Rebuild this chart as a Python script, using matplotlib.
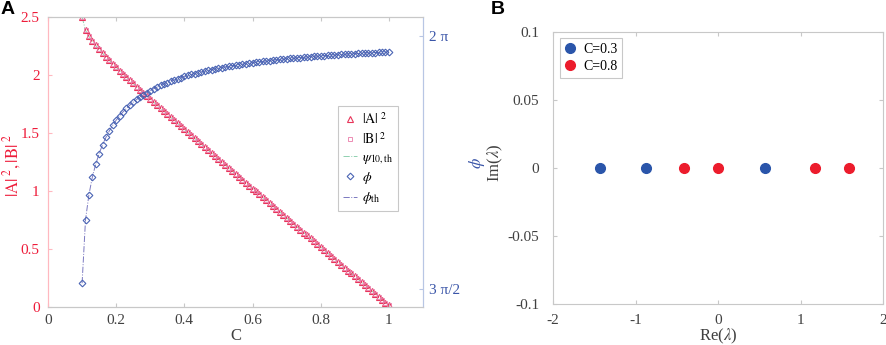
import numpy as np
import matplotlib
matplotlib.use("Agg")
import matplotlib.pyplot as plt

plt.rcParams['font.family'] = ['Liberation Serif', 'DejaVu Serif']
plt.rcParams['mathtext.fontset'] = 'stix'

# ---------------- data: panel A ----------------
C_vals = [0.10, 0.11, 0.12, 0.13, 0.14, 0.15, 0.16, 0.17, 0.18, 0.19,
          0.20, 0.21, 0.22, 0.23, 0.24, 0.25, 0.26, 0.27, 0.28, 0.29,
          0.30, 0.31, 0.32, 0.33, 0.34, 0.35, 0.36, 0.37, 0.38, 0.39,
          0.40, 0.41, 0.42, 0.43, 0.44, 0.45, 0.46, 0.47, 0.48, 0.49,
          0.50, 0.51, 0.52, 0.53, 0.54, 0.55, 0.56, 0.57, 0.58, 0.59,
          0.60, 0.61, 0.62, 0.63, 0.64, 0.65, 0.66, 0.67, 0.68, 0.69,
          0.70, 0.71, 0.72, 0.73, 0.74, 0.75, 0.76, 0.77, 0.78, 0.79,
          0.80, 0.81, 0.82, 0.83, 0.84, 0.85, 0.86, 0.87, 0.88, 0.89,
          0.90, 0.91, 0.92, 0.93, 0.94, 0.95, 0.96, 0.97, 0.98, 0.99, 1.00]

A2_vals = [2.500, 2.385, 2.334, 2.292, 2.255, 2.220, 2.188, 2.156, 2.126, 2.096,
           2.067, 2.038, 2.010, 1.982, 1.955, 1.927, 1.900, 1.873, 1.846, 1.819,
           1.793, 1.766, 1.740, 1.714, 1.688, 1.661, 1.635, 1.609, 1.583, 1.558,
           1.532, 1.506, 1.480, 1.455, 1.429, 1.403, 1.378, 1.352, 1.326, 1.301,
           1.275, 1.250, 1.224, 1.199, 1.173, 1.148, 1.123, 1.097, 1.072, 1.046,
           1.021, 0.996, 0.970, 0.945, 0.920, 0.894, 0.869, 0.844, 0.818, 0.793,
           0.768, 0.743, 0.717, 0.692, 0.667, 0.642, 0.617, 0.591, 0.566, 0.541,
           0.516, 0.490, 0.465, 0.440, 0.415, 0.390, 0.365, 0.339, 0.314, 0.289,
           0.264, 0.239, 0.214, 0.188, 0.163, 0.138, 0.113, 0.088, 0.063, 0.038, 0.013]

B2_vals = list(A2_vals)

phi_vals = [4.750, 5.142, 5.298, 5.406, 5.488, 5.553, 5.608, 5.654, 5.694, 5.729,
            5.760, 5.787, 5.811, 5.833, 5.853, 5.872, 5.888, 5.904, 5.918, 5.931,
            5.943, 5.955, 5.965, 5.975, 5.985, 5.993, 6.002, 6.009, 6.017, 6.024,
            6.031, 6.037, 6.043, 6.048, 6.054, 6.059, 6.064, 6.069, 6.073, 6.078,
            6.082, 6.086, 6.090, 6.093, 6.097, 6.100, 6.104, 6.107, 6.110, 6.113,
            6.116, 6.119, 6.121, 6.124, 6.126, 6.129, 6.131, 6.133, 6.136, 6.138,
            6.140, 6.142, 6.144, 6.146, 6.148, 6.150, 6.151, 6.153, 6.155, 6.156,
            6.158, 6.159, 6.161, 6.162, 6.164, 6.165, 6.167, 6.168, 6.169, 6.171,
            6.172, 6.173, 6.174, 6.176, 6.177, 6.178, 6.179, 6.180, 6.181, 6.182, 6.183]

left_ticks = [0, 0.5, 1, 1.5, 2, 2.5]
left_ticklabels = ['0', '0.5', '1', '1.5', '2', '2.5']
x_ticks_A = [0, 0.2, 0.4, 0.6, 0.8, 1]
x_ticklabels_A = ['0', '0.2', '0.4', '0.6', '0.8', '1']
right_ticks = [1.5 * np.pi, 2 * np.pi]
right_ticklabels = ['3 π/2', '2 π']

# ---------------- data: panel B ----------------
re_C03 = [-1.43, -0.87, 0.57]
im_C03 = [0.0, 0.0, 0.0]
re_C08 = [-0.41, 0.0, 1.17, 1.59]
im_C08 = [0.0, 0.0, 0.0, 0.0]
x_ticks_B = [-2, -1, 0, 1, 2]
y_ticks_B = [-0.1, -0.05, 0, 0.05, 0.1]
y_ticklabels_B = ['-0.1', '-0.05', '0', '0.05', '0.1']

# ---------------- colours ----------------
RED_TXT = '#ee1c3a'
BLUE_TXT = '#3a55a8'
TRI_C = '#e8355a'
SQ_C = '#ea7aa8'
DIA_C = '#4a64b4'
PHI_LINE = '#7a78c0'
PSI_LINE = '#8fd0b0'
GRAY_SP = '#c8c8c8'
GRAY_TXT = '#404040'

W, H = 886, 345
fig = plt.figure(figsize=(W / 100, H / 100), dpi=100)

def fx(px):
    return px / W

def fy(py):
    return 1 - py / H

TICK_FS = 11
LAB_FS = 12

# ---------------- panel A ----------------
axA = fig.add_axes([fx(48), fy(307), fx(423) - fx(48), fy(17) - fy(307)])
axA.set_xlim(0, 1.1)
axA.set_ylim(0, 2.5)
axA2 = axA.twinx()
axA2.set_ylim(4.6027, 6.399)

psi_line, = axA.plot(C_vals, A2_vals, linestyle='-.', color=PSI_LINE, lw=0.7, zorder=2)
phi_line, = axA2.plot(C_vals, phi_vals, linestyle='-.', color=PHI_LINE, lw=0.7, zorder=2)
tri, = axA.plot(C_vals, A2_vals, linestyle='none', marker='^', ms=4.2, mfc='none',
                mec=TRI_C, mew=0.8, zorder=3)
sq, = axA.plot(C_vals, B2_vals, linestyle='none', marker='s', ms=3.0, mfc='none',
               mec=SQ_C, mew=0.6, zorder=3)
dia, = axA2.plot(C_vals, phi_vals, linestyle='none', marker='D', ms=3.4, mfc='none',
                 mec=DIA_C, mew=0.8, zorder=3)

for ax in (axA, axA2):
    for s in ['top', 'bottom']:
        ax.spines[s].set_color(GRAY_SP)
    ax.spines['left'].set_color('#ffb8c0')
    ax.spines['right'].set_color('#b8c6e4')

axA.set_xticks(x_ticks_A)
axA.set_xticklabels(x_ticklabels_A)
axA.set_yticks(left_ticks)
axA.set_yticklabels(left_ticklabels)
axA.tick_params(axis='x', direction='in', colors=GRAY_SP, labelcolor=GRAY_TXT,
                labelsize=TICK_FS, top=True, length=3, pad=5)
axA.tick_params(axis='y', direction='in', colors='#ffb8c0', labelcolor=RED_TXT,
                labelsize=TICK_FS, length=3, pad=6)
axA2.set_yticks(right_ticks)
axA2.set_yticklabels(right_ticklabels)
axA2.tick_params(axis='y', direction='in', colors='#b8c6e4', labelcolor=BLUE_TXT,
                 labelsize=TICK_FS, length=3, pad=4)

fig.text(fx(236), fy(336), 'C', ha='center', va='center', fontsize=LAB_FS, color=GRAY_TXT)
fig.text(fx(12), fy(165), r'$\mathrm{|A|}^{\ 2}\mathrm{,|B|}^{\ 2}$', ha='center', va='center',
         rotation=90, fontsize=LAB_FS, color=RED_TXT)
fig.text(fx(477), fy(163), r'$\phi$', ha='center', va='center', rotation=90,
         fontsize=LAB_FS, color=BLUE_TXT)

handles = [tri, sq, psi_line, dia, phi_line]
labels = [r'$\mathrm{|A|}^{\ 2}$', r'$\mathrm{|B|}^{\ 2}$', r'$\psi_{\mathrm{10,th}}$',
          r'$\phi$', r'$\phi_{\mathrm{th}}$']
legA = fig.legend(handles, labels, loc='upper left', bbox_to_anchor=(fx(338), fy(106)),
                  fontsize=10, frameon=True, fancybox=False, edgecolor='#bbbbbb',
                  handlelength=1.0, handletextpad=0.4, borderpad=0.35, labelspacing=0.3,
                  borderaxespad=0)
legA.get_frame().set_linewidth(0.8)

fig.text(fx(1), fy(9), 'A', ha='left', va='center', fontsize=14, fontweight='bold',
         family='Liberation Sans')

# ---------------- panel B ----------------
axB = fig.add_axes([fx(553), fy(304), fx(883) - fx(553), fy(32) - fy(304)])
axB.set_xlim(-2, 2)
axB.set_ylim(-0.1, 0.1)
axB.plot(re_C03, im_C03, linestyle='none', marker='o', ms=7, color='#2a55aa',
         label='C=0.3')
axB.plot(re_C08, im_C08, linestyle='none', marker='o', ms=7, color='#ec1c2c',
         label='C=0.8')
for s in axB.spines.values():
    s.set_color(GRAY_SP)
axB.set_xticks(x_ticks_B)
axB.set_xticklabels([str(v) for v in x_ticks_B])
axB.set_yticks(y_ticks_B)
axB.set_yticklabels(y_ticklabels_B)
axB.tick_params(axis='x', direction='in', colors=GRAY_SP, labelcolor=GRAY_TXT,
                labelsize=TICK_FS, top=True, length=3, pad=7)
axB.tick_params(axis='y', direction='in', colors=GRAY_SP, labelcolor=GRAY_TXT,
                labelsize=TICK_FS, right=True, length=3, pad=10)
fig.text(fx(718), fy(336), r'Re($\lambda$)', ha='center', va='center', fontsize=LAB_FS,
         color=GRAY_TXT)
fig.text(fx(495), fy(163), r'Im($\lambda$)', ha='center', va='center', rotation=90,
         fontsize=LAB_FS, color=GRAY_TXT)
legB = axB.legend(loc='upper left', bbox_to_anchor=(fx(560), fy(38)),
                  bbox_transform=fig.transFigure, fontsize=10, frameon=True,
                  fancybox=False, edgecolor='#bbbbbb', handlelength=0.8,
                  handletextpad=0.5, borderpad=0.35, labelspacing=0.3, borderaxespad=0)
legB.get_frame().set_linewidth(0.8)

fig.text(fx(491), fy(9), 'B', ha='left', va='center', fontsize=14, fontweight='bold',
         family='Liberation Sans')

fig.savefig('out.png', dpi=100)
